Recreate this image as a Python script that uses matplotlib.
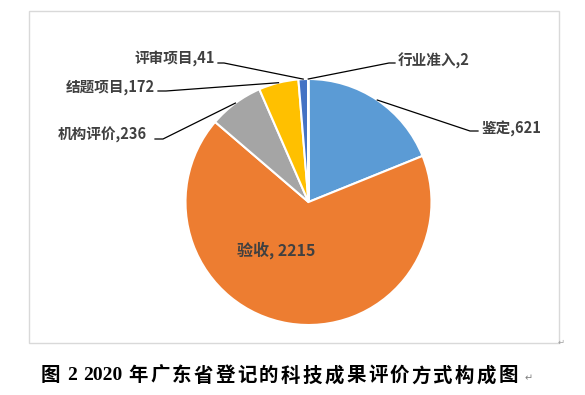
import numpy as np
import matplotlib
matplotlib.use("Agg")
import matplotlib.pyplot as plt
from matplotlib.patches import Rectangle

# data
categories = ["鉴定", "验收", "机构评价", "结题项目", "评审项目", "行业准入"]
values = [621, 2215, 236, 172, 41, 2]
colors = ["#5B9BD5", "#ED7D31", "#A5A5A5", "#FFC000", "#4472C4", "#70AD47"]
caption = "图 2 2020 年广东省登记的科技成果评价方式构成图"

W, H = 585, 395
fig = plt.figure(figsize=(W / 100, H / 100), dpi=100)
ax = fig.add_axes([0, 0, 1, 1])

def py(y):  # pixel row from the top -> data y
    return H - y

cx, cy, r = 308.5, py(202), 123
wedges, _ = ax.pie(values, colors=colors, startangle=90, counterclock=False,
                   center=(cx, cy), radius=r, frame=True,
                   wedgeprops=dict(edgecolor="white", linewidth=1.5))
ax.set_xlim(0, W)
ax.set_ylim(0, H)
ax.set_aspect("auto")
ax.axis("off")

# chart frame
ax.add_patch(Rectangle((29, py(343)), 530, 332, fill=False, edgecolor="#D9D9D9", lw=1))

lab_font = ["Noto Sans CJK SC", "DejaVu Sans"]
gray = "#404040"

# label layout: (text x, text y, ha, line knee x, line end x, line y)
layout = {
    "鉴定": (482, 129, "left", 470, 478, 131),
    "机构评价": (147, 135, "right", 163, 155, 139),
    "结题项目": (155, 87, "right", 166, 158, 91),
    "评审项目": (215, 58, "right", 224, 218, 63),
    "行业准入": (398, 61, "left", 389, 395, 63),
}

for w, name, v in zip(wedges, categories, values):
    if name == "验收":
        ax.text(276, py(250), f"{name}, {v}", fontsize=11.5, fontweight="bold",
                color=gray, family=lab_font, ha="center", va="center")
        continue
    tx, ty, ha, kx, ex, ly = layout[name]
    mid = np.deg2rad((w.theta1 + w.theta2) / 2)
    sx, sy = cx + r * np.cos(mid), cy + r * np.sin(mid)
    ax.plot([sx, kx, ex], [sy, py(ly), py(ly)], color="black", lw=0.9)
    ax.text(tx, py(ty), f"{name},{v}", fontsize=10.5, fontweight="bold",
            color=gray, family=lab_font, ha=ha, va="center")

# caption under the chart, spread out like the Word caption
cap_font = ["Liberation Serif", "Noto Sans CJK SC"]
tokens = []
for p in caption.split(" "):
    if p.isascii():
        tokens.append(p)
    else:
        tokens.extend(list(p))
fig.canvas.draw()
renderer = fig.canvas.get_renderer()
widths = []
for t in tokens:
    tt = ax.text(0, 0, t, fontsize=14, fontweight="bold", family=cap_font)
    w_ = tt.get_window_extent(renderer).width
    if tokens.index(t) < 3:
        w_ += 4  # the real spaces after 图, 2 and 2020
    widths.append(w_)
    tt.remove()
x0, x1 = 41, 522
gap = (x1 - x0 - sum(widths)) / (len(tokens) - 1)
x = x0
for t, wd in zip(tokens, widths):
    ax.text(x, py(376), t, fontsize=14, fontweight="bold", color="black",
            family=cap_font, ha="left", va="center")
    x += wd + gap

ax.text(561, py(342), "↵", fontsize=6, color="#A0A0A0", family="DejaVu Sans",
        ha="center", va="center")
ax.text(529, py(378), "↵", fontsize=7, color="#808080", family="DejaVu Sans",
        ha="center", va="center")

fig.savefig("out.png", dpi=100)
